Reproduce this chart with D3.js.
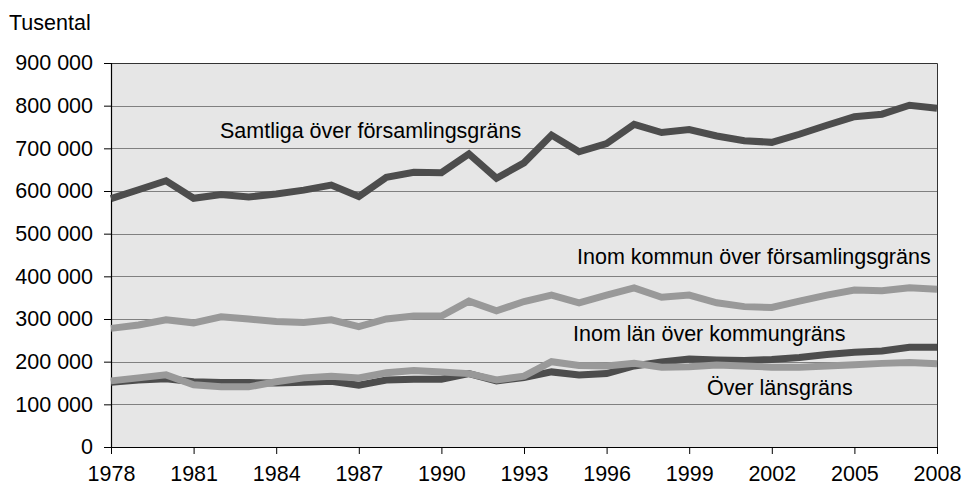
<!DOCTYPE html>
<html><head><meta charset="utf-8">
<script src="https://cdn.jsdelivr.net/npm/d3@7"></script>
<style>
html,body{margin:0;padding:0;background:#fff;}
svg{display:block;font-family:Arial,"Liberation Sans",sans-serif;}
</style></head>
<body><svg id="c" width="963" height="487"></svg>
<script>
const years = d3.range(1978, 2009);
const samtliga   = [582,603,624,583,592,586,593,602,614,587,632,644,643,687,630,666,731,692,711,756,737,744,729,718,714,733,754,774,780,801,794].map(v=>v*1000);
const inomKommun = [278,286,298,291,305,300,294,292,298,282,300,307,307,342,319,341,356,338,356,373,351,356,338,329,327,342,356,368,366,373,370].map(v=>v*1000);
const inomLan    = [152,157,160,153,151,151,150,152,154,145,157,159,159,172,155,163,176,169,172,190,199,206,204,203,205,210,217,222,225,234,234].map(v=>v*1000);
const overLan    = [155,162,169,146,141,141,153,162,166,162,174,179,176,172,157,166,200,191,190,196,187,188,192,190,187,187,190,193,196,198,195].map(v=>v*1000);
const yTicks = [0,100000,200000,300000,400000,500000,600000,700000,800000,900000];
const xTicks = [1978,1981,1984,1987,1990,1993,1996,1999,2002,2005,2008];
const seriesNames = ["Samtliga över församlingsgräns","Inom kommun över församlingsgräns","Inom län över kommungräns","Över länsgräns"];

const L=111, R=937, T=63, B=447;
const FS = "21.5px";
const svg = d3.select("#c");
const x = d3.scaleLinear().domain([1978,2008]).range([L,R]);
const y = d3.scaleLinear().domain([0,900000]).range([B,T]);

svg.append("rect").attr("x",L).attr("y",T).attr("width",R-L).attr("height",B-T).attr("fill","#e6e6e6");

svg.append("g").selectAll("line").data(yTicks.filter(v=>v>0 && v<900000)).join("line")
  .attr("x1",L).attr("x2",R).attr("y1",d=>Math.round(y(d))+0.5).attr("y2",d=>Math.round(y(d))+0.5)
  .attr("stroke","#808080").attr("stroke-width",1);

svg.append("path").attr("d",`M${L},${T+0.5}H${R+0.5}V${B}`).attr("fill","none").attr("stroke","#333").attr("stroke-width",1);

const fmt = v => v===0 ? "0" : d3.format(",")(v).replace(/,/g," ");
const yAxis = d3.axisLeft(y).tickValues(yTicks).tickFormat(fmt).tickSize(7).tickPadding(11);
const gy = svg.append("g").attr("transform",`translate(${L},0)`).call(yAxis);
const xAxis = d3.axisBottom(x).tickValues(xTicks).tickFormat(d3.format("d")).tickSize(7).tickPadding(12);
const gx = svg.append("g").attr("transform",`translate(0,${B})`).call(xAxis);
[gy,gx].forEach(g=>{
  g.select(".domain").attr("stroke","#000").attr("stroke-width",1.2);
  g.selectAll(".tick line").attr("stroke","#000");
  g.selectAll("text").attr("fill","#000").style("font-size",FS).style("font-family","Arial,'Liberation Sans',sans-serif");
});
gx.select(".domain").attr("d",`M${L},0.5H${R}`);
gy.select(".domain").attr("d",`M0.5,${T}V${B}`);

const line = d3.line().x((d,i)=>x(years[i])).y(d=>y(d));
const draw = (arr,color)=>svg.append("path").datum(arr).attr("d",line)
  .attr("fill","none").attr("stroke",color).attr("stroke-width",7).attr("stroke-linejoin","miter");
draw(samtliga,"#4d4d4d");
draw(inomKommun,"#999999");
draw(inomLan,"#4d4d4d");
draw(overLan,"#999999");

const lab = (t,xx,yy)=>svg.append("text").attr("x",xx).attr("y",yy).text(t)
  .style("font-size",FS).attr("fill","#000");
lab(seriesNames[0],220,138);
lab(seriesNames[1],577,264);
lab(seriesNames[2],573,341);
lab(seriesNames[3],707,395);
svg.append("text").attr("x",9).attr("y",30).text("Tusental").style("font-size",FS).attr("fill","#000");
</script></body></html>
